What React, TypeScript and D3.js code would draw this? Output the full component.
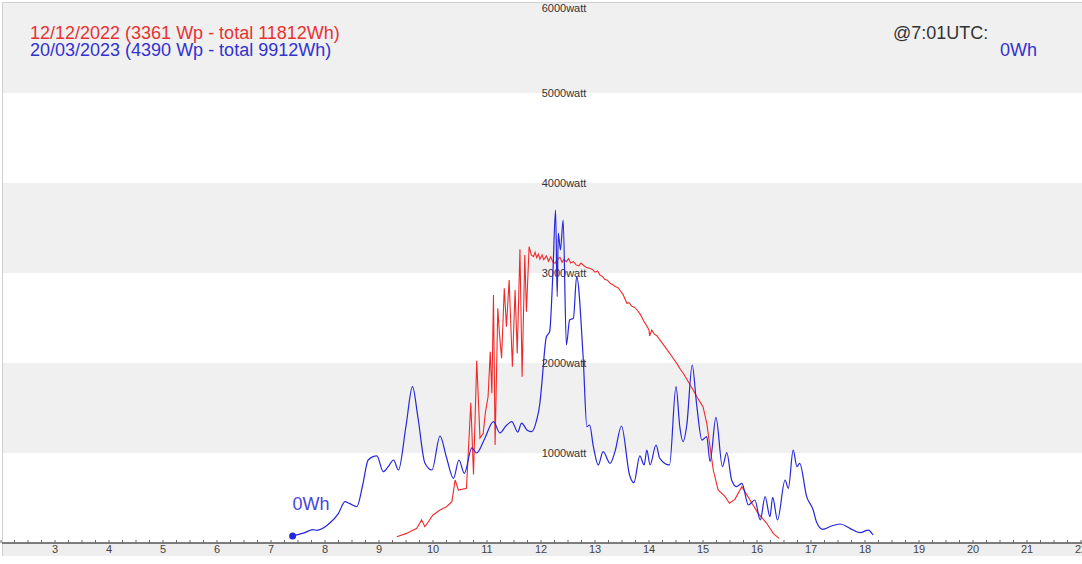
import React from 'react';
import * as d3 from 'd3';

// 12/12/2022 series (hour of day, watt)
const redHours = [9.33, 9.51, 9.7, 9.79, 9.85, 10.0, 10.13, 10.25, 10.35, 10.41, 10.47, 10.62, 10.7, 10.75, 10.81, 10.87, 10.93, 10.97, 11.02, 11.06, 11.09, 11.12, 11.15, 11.2, 11.23, 11.27, 11.32, 11.36, 11.41, 11.47, 11.52, 11.56, 11.61, 11.65, 11.7, 11.73, 11.78, 11.82, 11.86, 11.89, 11.92, 11.95, 11.98, 12.02, 12.05, 12.1, 12.14, 12.18, 12.22, 12.26, 12.3, 12.35, 12.39, 12.42, 12.47, 12.51, 12.55, 12.6, 12.65, 12.7, 12.74, 12.78, 12.84, 12.9, 12.95, 13.0, 13.05, 13.09, 13.14, 13.18, 13.23, 13.28, 13.33, 13.37, 13.42, 13.46, 13.52, 13.59, 13.63, 13.68, 13.73, 13.78, 13.84, 13.9, 13.96, 14.0, 14.01, 14.05, 14.1, 14.15, 14.2, 14.26, 14.32, 14.38, 14.45, 14.52, 14.58, 14.64, 14.7, 14.78, 14.85, 14.92, 15.0, 15.07, 15.13, 15.19, 15.28, 15.41, 15.49, 15.59, 15.72, 15.87, 16.02, 16.18, 16.3, 16.41];
const redWatts = [70, 107, 163, 256, 181, 311, 367, 403, 459, 700, 589, 607, 1559, 760, 2026, 1167, 1219, 1450, 1626, 2126, 1663, 2756, 1089, 2607, 2330, 2052, 2830, 2404, 2922, 1959, 2811, 2107, 3263, 1848, 3200, 2570, 3293, 3200, 3181, 3230, 3170, 3210, 3152, 3200, 3150, 3190, 3130, 3180, 3120, 3107, 3150, 3174, 3120, 3150, 3126, 3160, 3110, 3126, 3090, 3080, 3110, 3089, 3060, 3052, 3040, 3010, 3020, 2978, 2960, 2930, 2920, 2885, 2870, 2850, 2840, 2811, 2760, 2663, 2670, 2630, 2620, 2589, 2540, 2470, 2410, 2367, 2300, 2367, 2320, 2300, 2256, 2210, 2160, 2110, 2050, 1990, 1930, 1880, 1820, 1740, 1663, 1590, 1515, 1330, 1070, 811, 589, 515, 441, 485, 626, 478, 330, 219, 107, 52];

// 20/03/2023 series
const blueHours = [7.4, 7.6, 7.78, 7.84, 8.09, 8.25, 8.37, 8.45, 8.59, 8.7, 8.8, 8.96, 9.08, 9.17, 9.27, 9.36, 9.5, 9.62, 9.72, 9.85, 9.98, 10.13, 10.25, 10.38, 10.48, 10.58, 10.72, 10.81, 10.95, 11.12, 11.24, 11.35, 11.46, 11.57, 11.64, 11.75, 11.83, 11.92, 11.98, 12.01, 12.1, 12.16, 12.22, 12.27, 12.3, 12.32, 12.36, 12.41, 12.47, 12.53, 12.6, 12.66, 12.78, 12.85, 12.9, 12.97, 13.06, 13.15, 13.28, 13.37, 13.49, 13.64, 13.72, 13.83, 13.91, 13.96, 14.02, 14.13, 14.2, 14.38, 14.5, 14.57, 14.63, 14.7, 14.8, 14.88, 14.98, 15.07, 15.13, 15.24, 15.36, 15.44, 15.53, 15.62, 15.72, 15.84, 15.96, 16.06, 16.15, 16.24, 16.29, 16.38, 16.52, 16.58, 16.67, 16.74, 16.79, 16.92, 17.04, 17.1, 17.22, 17.38, 17.54, 17.72, 17.91, 18.06, 18.15];
const blueWatts = [78, 110, 148, 140, 222, 330, 459, 440, 403, 650, 922, 967, 792, 848, 922, 811, 1300, 1737, 1400, 889, 811, 1189, 950, 719, 922, 774, 1056, 1000, 1150, 1348, 1222, 1300, 1348, 1233, 1333, 1250, 1237, 1367, 1555, 1737, 2292, 2348, 3000, 3700, 2737, 3444, 3256, 3589, 2200, 2478, 2497, 2959, 2070, 1292, 1311, 1070, 867, 1015, 885, 1015, 1300, 756, 670, 967, 867, 1033, 867, 1089, 941, 867, 1737, 1292, 1126, 1311, 1978, 1552, 1144, 1181, 904, 1396, 848, 1004, 700, 626, 663, 422, 478, 256, 515, 292, 507, 256, 700, 607, 1033, 848, 885, 515, 367, 237, 152, 189, 211, 163, 115, 144, 89];

const yTicks = [1000, 2000, 3000, 4000, 5000, 6000];
const xLabels = d3.range(3, 23);
const legendLines = ['12/12/2022 (3361 Wp - total 11812Wh)', '20/03/2023 (4390 Wp - total 9912Wh)'];
const cursorLabel = '@7:01UTC:';
const cursorValue = '0Wh';

const W = 1082;
const H = 564;
const RED = '#f02a2a';
const BLUE = '#2626dc';
const FONT = '"Liberation Sans", Arial, sans-serif';

const x = d3.scaleLinear().domain([2, 22]).range([1, 1081]);
const y = d3.scaleLinear().domain([0, 6000]).range([543, 3]);

const App: React.FC = () => {
    const red: [number, number][] = redHours.map((h, i) => [h, redWatts[i]]);
    const blue: [number, number][] = blueHours.map((h, i) => [h, blueWatts[i]]);

    const redLine = d3.line<[number, number]>().x(d => x(d[0])).y(d => y(d[1]));
    const blueLine = d3.line<[number, number]>().x(d => x(d[0])).y(d => y(d[1])).curve(d3.curveMonotoneX);

    const minorTicks = d3.range(2, 22.01, 0.25);
    const first = blue[0];

    return (
        <div>
            <style>{'body{margin:0}'}</style>
            <svg width={W} height={H} style={{ display: 'block', fontFamily: FONT }}>
                <rect x={0} y={0} width={W} height={H} fill="#fff" />
                {/* alternating bands */}
                {yTicks.filter((_, i) => i % 2 === 0).map(t => (
                    <rect key={t} x={2} y={y(t + 1000)} width={W - 2} height={y(t) - y(t + 1000)} fill="#f0f0f0" />
                ))}
                {/* x axis strip */}
                <rect x={2} y={543} width={W - 2} height={13} fill="#eeeeee" />
                <path d={`M2.5,556V2.5H${W}`} fill="none" stroke="#cfcfcf" />
                <line x1={2} x2={W} y1={543} y2={543} stroke="#555" strokeWidth={1.5} />
                {minorTicks.map(t => (
                    <line key={t} x1={x(t)} x2={x(t)} y1={540} y2={543} stroke="#666" strokeWidth={1} />
                ))}
                {xLabels.map(h => (
                    <text key={h} x={x(h)} y={553} textAnchor="middle" fontSize={11} fill="#444">{h}</text>
                ))}
                {yTicks.map(t => (
                    <text key={t} x={564} y={Math.max(y(t), 8)} dy="0.35em" textAnchor="middle" fontSize={11} fill="#333">{`${t}watt`}</text>
                ))}

                <path d={redLine(red) || ''} fill="none" stroke={RED} strokeWidth={1.1} />
                <path d={blueLine(blue) || ''} fill="none" stroke={BLUE} strokeWidth={1.2} />
                <circle cx={x(first[0])} cy={y(first[1])} r={3.5} fill={BLUE} />
                <text x={x(first[0])} y={510} fontSize={18} fill="#4646dc">{cursorValue}</text>

                <text x={30} y={39} fontSize={18} fill="#e83232">{legendLines[0]}</text>
                <text x={30} y={56} fontSize={18} fill="#3232d2">{legendLines[1]}</text>
                <text x={893} y={39} fontSize={18} fill="#333">{cursorLabel}</text>
                <text x={1037} y={56} textAnchor="end" fontSize={18} fill="#3232d2">{cursorValue}</text>
            </svg>
        </div>
    );
};

export default App;
